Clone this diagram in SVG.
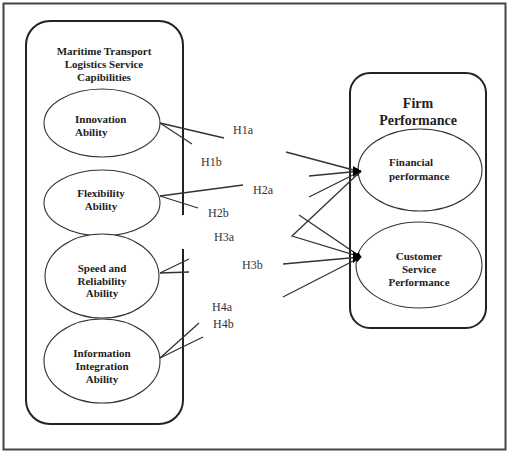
<svg xmlns="http://www.w3.org/2000/svg" width="514" height="452" viewBox="0 0 514 452">
<style>
.frame{fill:#fff;stroke:#444;stroke-width:2}
.box{fill:none;stroke:#222;stroke-width:2}
.ell{fill:#fff;stroke:#333;stroke-width:1.1}
.lbl{font-family:"Liberation Serif","Times New Roman",serif;font-weight:bold;font-size:11px;fill:#222}
.big{font-size:14px}
.h{font-family:"Liberation Serif","Times New Roman",serif;font-size:12px;fill:#333}
.ln{stroke:#333;stroke-width:1.3;fill:none}
</style>
<defs>
<marker id="arr" viewBox="0 0 10 10" refX="9" refY="5" markerWidth="6" markerHeight="6" markerUnits="userSpaceOnUse" orient="auto">
<path d="M0,0 L10,5 L0,10 z" fill="#000"/>
</marker>
</defs>
<rect class="frame" x="3.5" y="3.5" width="502" height="446"/>

<g id="capabilities">
<path class="box" d="M183,215 L183,45 A24,24 0 0 0 159,21 L50,21 A24,24 0 0 0 26,45 L26,400 A24,24 0 0 0 50,424 L159,424 A24,24 0 0 0 183,400 L183,249"/>
<text class="lbl" text-anchor="middle" x="104" y="55">Maritime Transport</text>
<text class="lbl" text-anchor="middle" x="104" y="68">Logistics Service</text>
<text class="lbl" text-anchor="middle" x="104" y="81">Capibilities</text>
</g>

<g id="innovation">
<ellipse class="ell" cx="102" cy="123" rx="58" ry="34"/>
<text class="lbl" x="75" y="123">Innovation</text>
<text class="lbl" x="75" y="136">Ability</text>
</g>

<g id="flexibility">
<ellipse class="ell" cx="102" cy="203" rx="58" ry="33"/>
<text class="lbl" text-anchor="middle" x="101" y="197">Flexibility</text>
<text class="lbl" text-anchor="middle" x="101" y="210">Ability</text>
</g>

<g id="speed">
<ellipse class="ell" cx="102" cy="276" rx="57" ry="42"/>
<text class="lbl" text-anchor="middle" x="102" y="272">Speed and</text>
<text class="lbl" text-anchor="middle" x="102" y="285">Reliability</text>
<text class="lbl" text-anchor="middle" x="102" y="297">Ability</text>
</g>

<g id="information">
<ellipse class="ell" cx="102" cy="361" rx="58" ry="42"/>
<text class="lbl" text-anchor="middle" x="102" y="357">Information</text>
<text class="lbl" text-anchor="middle" x="102" y="370">Integration</text>
<text class="lbl" text-anchor="middle" x="102" y="383">Ability</text>
</g>

<g id="firm-performance">
<rect class="box" x="350" y="73" width="136" height="255" rx="20" ry="20"/>
<text class="lbl big" text-anchor="middle" x="418" y="108">Firm</text>
<text class="lbl big" text-anchor="middle" x="418" y="125">Performance</text>
</g>

<g id="financial">
<ellipse class="ell" cx="420" cy="170" rx="62" ry="41"/>
<text class="lbl" x="389" y="166">Financial</text>
<text class="lbl" x="389" y="180">performance</text>
</g>

<g id="customer">
<ellipse class="ell" cx="419" cy="265" rx="63" ry="43"/>
<text class="lbl" text-anchor="middle" x="419" y="260">Customer</text>
<text class="lbl" text-anchor="middle" x="419" y="273">Service</text>
<text class="lbl" text-anchor="middle" x="419" y="286">Performance</text>
</g>

<g id="connectors">
<line class="ln" x1="160" y1="123" x2="224" y2="138"/>
<line class="ln" x1="160" y1="123" x2="192" y2="144"/>
<line class="ln" x1="160" y1="196" x2="243" y2="185"/>
<line class="ln" x1="160" y1="196" x2="198" y2="208"/>
<line class="ln" x1="160" y1="273" x2="189" y2="259"/>
<line class="ln" x1="160" y1="273" x2="189" y2="272"/>
<line class="ln" x1="160" y1="358" x2="199" y2="323"/>
<line class="ln" x1="160" y1="358" x2="203" y2="337"/>

<line class="ln" x1="286" y1="152" x2="361" y2="172" marker-end="url(#arr)"/>
<line class="ln" x1="309" y1="176" x2="361" y2="171" marker-end="url(#arr)"/>
<line class="ln" x1="309" y1="197" x2="361" y2="171" marker-end="url(#arr)"/>
<polyline class="ln" points="361,171 292,236 361,257"/>
<line class="ln" x1="299" y1="215" x2="361" y2="257" marker-end="url(#arr)"/>
<line class="ln" x1="283" y1="264" x2="361" y2="257" marker-end="url(#arr)"/>
<line class="ln" x1="283" y1="297" x2="361" y2="257" marker-end="url(#arr)"/>
<path d="M353,166 L361,171 L353,177 z" fill="#000"/>
<path d="M353,251 L361,257 L353,263 z" fill="#000"/>

<text class="h" x="233" y="134">H1a</text>
<text class="h" x="201" y="166">H1b</text>
<text class="h" x="253" y="194">H2a</text>
<text class="h" x="208" y="217">H2b</text>
<text class="h" x="214" y="241">H3a</text>
<text class="h" x="242" y="269">H3b</text>
<text class="h" x="212" y="311">H4a</text>
<text class="h" x="213" y="328">H4b</text>
</g>
</svg>
